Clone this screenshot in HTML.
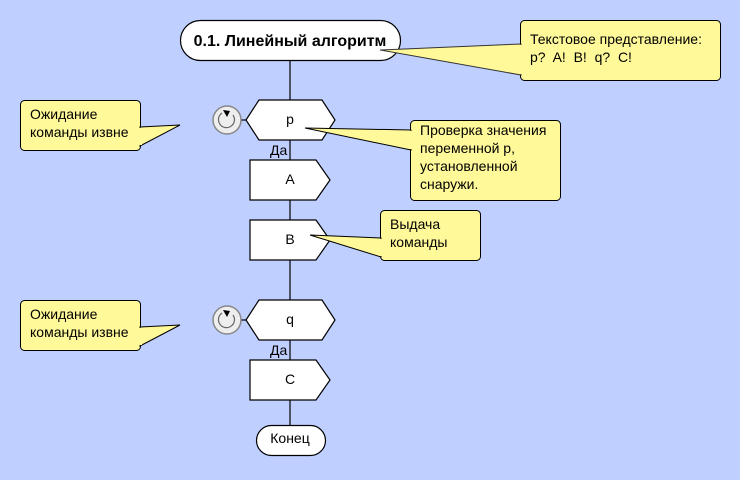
<!DOCTYPE html>
<html><head><meta charset="utf-8"><style>
html,body{margin:0;padding:0;background:#bfcfff;}
svg{display:block;font-family:"Liberation Sans",sans-serif;}
</style></head><body>
<svg width="740" height="480" viewBox="0 0 740 480" xmlns="http://www.w3.org/2000/svg">
<rect width="740" height="480" fill="#bfcfff"/>
<g stroke="#000" stroke-width="1.2">
<line x1="290" y1="60" x2="290" y2="425"/>
<line x1="241" y1="120" x2="247" y2="120"/>
<line x1="241" y1="320" x2="247" y2="320"/>
</g>
<g fill="#fff" stroke="#000" stroke-width="1.2">
<rect x="180.5" y="20.5" width="220" height="40" rx="20"/>
<polygon points="246,120 259,100 322,100 335,120 322,140 259,140"/>
<polygon points="250,160 316,160 330,180 316,200 250,200"/>
<polygon points="250,220 316,220 330,240 316,260 250,260"/>
<polygon points="246,320 259,300 322,300 335,320 322,340 259,340"/>
<polygon points="250,360 316,360 330,380 316,400 250,400"/>
<rect x="256.5" y="425.5" width="69" height="30" rx="15"/>
</g>
<g>
<circle cx="227" cy="120" r="14" fill="#eee" stroke="#888" stroke-width="1.5"/>
<path d="M222,113 A8,8 0 1 0 233,115" fill="none" stroke="#666" stroke-width="1.2"/>
<polygon points="223,110 230,111 227,117" fill="#000"/>
<circle cx="227" cy="320" r="14" fill="#eee" stroke="#888" stroke-width="1.5"/>
<path d="M222,313 A8,8 0 1 0 233,315" fill="none" stroke="#666" stroke-width="1.2"/>
<polygon points="223,310 230,311 227,317" fill="#000"/>
</g>
<g fill="#fff99a" stroke="#000" stroke-width="1">
<rect x="520.5" y="20.5" width="200" height="60" rx="4"/>
<polygon points="521,44 380,50 521,75" stroke="#333"/>
<rect x="410.5" y="120.5" width="150" height="80" rx="4"/>
<polygon points="411,130 305,128 411,150"/>
<rect x="380.5" y="210.5" width="100" height="50" rx="4"/>
<polygon points="381,238 310,235 381,257"/>
<rect x="20.5" y="100.5" width="120" height="50" rx="4"/>
<polygon points="140,127 180,125 140,146"/>
<rect x="20.5" y="300.5" width="120" height="50" rx="4"/>
<polygon points="140,327 180,325 140,346"/>
</g>
<g fill="#fff99a" stroke="none">
<rect x="519" y="45" width="4" height="29"/>
<rect x="409" y="131" width="4" height="18"/>
<rect x="379" y="239" width="4" height="17"/>
<rect x="138" y="128" width="4" height="17"/>
<rect x="138" y="328" width="4" height="17"/>
</g>
<g font-size="14" fill="#000">
<text x="290" y="46" text-anchor="middle" font-weight="bold" font-size="16">0.1. Линейный алгоритм</text>
<text x="290" y="124" text-anchor="middle">p</text>
<text x="290" y="184" text-anchor="middle">A</text>
<text x="290" y="244" text-anchor="middle">B</text>
<text x="290" y="324" text-anchor="middle">q</text>
<text x="290" y="384" text-anchor="middle">C</text>
<text x="290" y="443" text-anchor="middle">Конец</text>
<text x="270" y="155">Да</text>
<text x="270" y="355">Да</text>
<text x="530" y="44">Текстовое представление:</text>
<text x="530" y="62" xml:space="preserve">p?  A!  B!  q?  C!</text>
<text x="420" y="135">Проверка значения</text>
<text x="420" y="153">переменной p,</text>
<text x="420" y="171">установленной</text>
<text x="420" y="189">снаружи.</text>
<text x="390" y="229">Выдача</text>
<text x="390" y="247">команды</text>
<text x="30" y="119">Ожидание</text>
<text x="30" y="137">команды извне</text>
<text x="30" y="319">Ожидание</text>
<text x="30" y="337">команды извне</text>
</g>
</svg>
</body></html>
